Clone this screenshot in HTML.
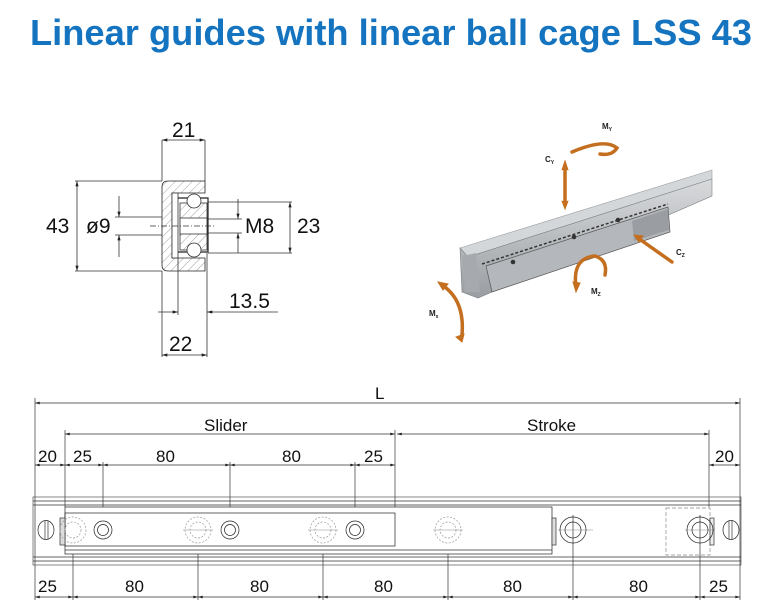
<!DOCTYPE html>
<html><head><meta charset="utf-8"><style>
body{margin:0;background:#fff;width:766px;height:608px;overflow:hidden}
svg{display:block}
text{font-family:"Liberation Sans",Arial,sans-serif}
</style></head><body>
<svg width="766" height="608" viewBox="0 0 766 608" xmlns="http://www.w3.org/2000/svg">
<defs>
<marker id="a" viewBox="0 0 10 6" refX="10" refY="3" markerWidth="8" markerHeight="4" orient="auto-start-reverse"><path d="M0,0L10,3L0,6z" fill="#222"/></marker>
<pattern id="h" width="6" height="6" patternUnits="userSpaceOnUse" patternTransform="rotate(45)"><line x1="0" y1="0" x2="0" y2="6" stroke="#777" stroke-width="0.7"/></pattern>
<linearGradient id="g1" x1="0" y1="0" x2="0" y2="1"><stop offset="0" stop-color="#d8dadc"/><stop offset="1" stop-color="#9a9ea2"/></linearGradient>
</defs>
<text x="391" y="45" text-anchor="middle" font-size="36" font-weight="bold" fill="#1574c0" textLength="722" lengthAdjust="spacingAndGlyphs">Linear guides with linear ball cage LSS 43</text>

<!-- cross section -->
<g stroke="#333" stroke-width="0.8" fill="none">
<path d="M168,181H205V193H172V258H205V271H168Q162,271 162,265V187Q162,181 168,181Z" fill="url(#h)" stroke="#222"/>
<rect x="172" y="193" width="6" height="65" fill="#fff"/>
<path d="M178,198H208V252H178" stroke="#222" stroke-width="1.2"/>
<rect x="180" y="203" width="27" height="47" fill="url(#h)"/>
<rect x="180" y="218" width="27" height="16" fill="#fff"/>
<circle cx="194" cy="201" r="7" fill="#fff"/>
<circle cx="194" cy="250" r="7" fill="#fff"/>
<line x1="162" y1="140" x2="162" y2="181"/><line x1="205" y1="140" x2="205" y2="181"/>
<line x1="162" y1="140" x2="205" y2="140" marker-start="url(#a)" marker-end="url(#a)"/>
<line x1="75" y1="181" x2="162" y2="181"/><line x1="75" y1="271" x2="162" y2="271"/>
<line x1="77" y1="181" x2="77" y2="271" marker-start="url(#a)" marker-end="url(#a)"/>
<line x1="115" y1="217" x2="162" y2="217"/><line x1="115" y1="235" x2="162" y2="235"/>
<line x1="119" y1="196" x2="119" y2="217" marker-end="url(#a)"/><line x1="119" y1="257" x2="119" y2="235" marker-end="url(#a)"/>
<line x1="150" y1="226" x2="215" y2="226" stroke-dasharray="6,2,1,2"/>
<line x1="208" y1="202" x2="292" y2="202"/><line x1="208" y1="253" x2="292" y2="253"/>
<line x1="207" y1="219" x2="242" y2="219"/><line x1="207" y1="233" x2="242" y2="233"/>
<line x1="238" y1="199" x2="238" y2="219" marker-end="url(#a)"/><line x1="238" y1="253" x2="238" y2="233" marker-end="url(#a)"/>
<line x1="290" y1="202" x2="290" y2="253" marker-start="url(#a)" marker-end="url(#a)"/>
<line x1="162" y1="271" x2="162" y2="357"/><line x1="178" y1="258" x2="178" y2="315"/><line x1="207" y1="253" x2="207" y2="357"/>
<line x1="158" y1="312" x2="178" y2="312" marker-end="url(#a)"/><line x1="278" y1="312" x2="207" y2="312" marker-end="url(#a)"/>
<line x1="162" y1="355" x2="207" y2="355" marker-start="url(#a)" marker-end="url(#a)"/>
</g>
<g font-size="21" fill="#111">
<text x="172" y="137">21</text><text x="46" y="233">43</text><text x="86" y="233">ø9</text>
<text x="245" y="233">M8</text><text x="297" y="233">23</text><text x="229" y="308">13.5</text><text x="169" y="351">22</text>
</g>

<!-- 3D rail -->
<g>
<polygon points="460,248 712,170 712,179 468,257" fill="#d4d7da" stroke="#9a9da0" stroke-width="0.6"/>
<polygon points="468,257 712,179 712,196 478,298 462,292 460,248" fill="url(#g1)" stroke="#7d8185" stroke-width="0.6"/>
<polygon points="486,266 668,207 670,232 492,292" fill="#b4b8bc" stroke="#555" stroke-width="0.7"/>
<line x1="482" y1="264" x2="668" y2="204" stroke="#333" stroke-width="1.5" stroke-dasharray="3,2"/>
<polygon points="632,221 668,209 669,230 634,241" fill="#9a9ea2"/>
<circle cx="513" cy="262" r="2.3" fill="#333"/><circle cx="574" cy="237" r="2.3" fill="#333"/><circle cx="618" cy="220" r="2.3" fill="#333"/>
<polygon points="462,256 476,253 480,292 465,292" fill="#a6aaae"/>
</g>
<g stroke="#c46f1f" stroke-width="3.5" fill="none" stroke-linecap="round">
<line x1="565" y1="166" x2="565" y2="205"/>
<path d="M562,170L565,161L568,170" fill="#c46f1f" stroke-width="1"/>
<path d="M562,201L565,209L568,201" fill="#c46f1f" stroke-width="1"/>
<path d="M572,152Q605,138 617,148Q612,156 600,154"/>
<line x1="638" y1="238" x2="672" y2="262"/>
<path d="M634,235l9,1l-4,6z" fill="#c46f1f" stroke-width="1"/>
<path d="M576,287Q572,258 595,256Q608,260 605,275"/>
<path d="M573,282l3,10l4,-9z" fill="#c46f1f" stroke-width="1"/>
<path d="M442,285Q465,300 462,335"/>
<path d="M438,282l10,2l-5,6z" fill="#c46f1f" stroke-width="1"/>
<path d="M456,337l6,5l2,-8z" fill="#c46f1f" stroke-width="1"/>
</g>
<g font-size="8" font-weight="bold" fill="#222">
<text x="602" y="129">M<tspan font-size="5" dy="2">Y</tspan></text>
<text x="545" y="162">C<tspan font-size="5" dy="2">Y</tspan></text>
<text x="676" y="255">C<tspan font-size="5" dy="2">Z</tspan></text>
<text x="591" y="294">M<tspan font-size="5" dy="2">Z</tspan></text>
<text x="429" y="316">M<tspan font-size="5" dy="2">x</tspan></text>
</g>

<!-- bottom drawing -->
<g stroke="#333" stroke-width="0.7" fill="none">
<line x1="35" y1="398" x2="35" y2="600"/><line x1="740" y1="398" x2="740" y2="600"/>
<line x1="35" y1="403" x2="740" y2="403" marker-start="url(#a)" marker-end="url(#a)"/>
<line x1="65" y1="430" x2="65" y2="507"/><line x1="395" y1="430" x2="395" y2="507"/><line x1="709" y1="430" x2="709" y2="507"/>
<line x1="65" y1="434" x2="395" y2="434" marker-start="url(#a)" marker-end="url(#a)"/>
<line x1="397" y1="434" x2="709" y2="434" marker-start="url(#a)" marker-end="url(#a)"/>
<g marker-start="url(#a)" marker-end="url(#a)">
<line x1="35" y1="465" x2="65" y2="465"/><line x1="65" y1="465" x2="103" y2="465"/>
<line x1="103" y1="465" x2="230" y2="465"/><line x1="230" y1="465" x2="355" y2="465"/><line x1="355" y1="465" x2="395" y2="465"/>
<line x1="709" y1="465" x2="740" y2="465"/>
<line x1="35" y1="597" x2="73" y2="597"/><line x1="73" y1="597" x2="198" y2="597"/><line x1="198" y1="597" x2="323" y2="597"/>
<line x1="323" y1="597" x2="448" y2="597"/><line x1="448" y1="597" x2="573" y2="597"/><line x1="573" y1="597" x2="700" y2="597"/><line x1="700" y1="597" x2="740" y2="597"/>
</g>
<line x1="103" y1="462" x2="103" y2="545"/><line x1="230" y1="462" x2="230" y2="545"/><line x1="355" y1="462" x2="355" y2="545"/>
<line x1="73" y1="515" x2="73" y2="600"/><line x1="198" y1="515" x2="198" y2="600"/><line x1="323" y1="515" x2="323" y2="600"/>
<line x1="448" y1="515" x2="448" y2="600"/><line x1="573" y1="515" x2="573" y2="600"/><line x1="700" y1="515" x2="700" y2="600"/>
<rect x="33" y="497" width="708" height="68" stroke="#555"/>
<line x1="33" y1="501" x2="741" y2="501"/><line x1="33" y1="505" x2="741" y2="505"/>
<line x1="33" y1="557" x2="741" y2="557"/><line x1="33" y1="561" x2="741" y2="561"/>
<rect x="65" y="507" width="487" height="47" fill="#fff" stroke="#222"/>
<rect x="65" y="513" width="330" height="33" stroke="#222"/>
<line x1="65" y1="550" x2="552" y2="550"/>
<rect x="60" y="518" width="5" height="27" fill="#ddd"/><rect x="552" y="518" width="4" height="27" fill="#ddd"/>
<rect x="666" y="508" width="44" height="47" stroke-dasharray="4,2" stroke="#888"/>
<rect x="710" y="518" width="4" height="27" fill="#eee"/>
<g stroke="#999" stroke-dasharray="2,1.5">
<circle cx="73" cy="530" r="13"/><circle cx="73" cy="530" r="8"/>
<circle cx="198" cy="530" r="13"/><circle cx="198" cy="530" r="8"/>
<circle cx="323" cy="530" r="13"/><circle cx="323" cy="530" r="8"/>
<circle cx="448" cy="530" r="13"/><circle cx="448" cy="530" r="8"/>
</g>
<g stroke="#888" stroke-width="0.5">
<line x1="183" y1="530" x2="213" y2="530"/><line x1="308" y1="530" x2="338" y2="530"/><line x1="433" y1="530" x2="463" y2="530"/>
<line x1="558" y1="530" x2="593" y2="530"/><line x1="685" y1="530" x2="715" y2="530"/>
</g>
<circle cx="103" cy="530" r="9" stroke="#222"/><circle cx="103" cy="530" r="5.5" stroke="#222"/>
<circle cx="230" cy="530" r="9" stroke="#222"/><circle cx="230" cy="530" r="5.5" stroke="#222"/>
<circle cx="355" cy="530" r="9" stroke="#222"/><circle cx="355" cy="530" r="5.5" stroke="#222"/>
<circle cx="573" cy="530" r="13" stroke="#222"/><circle cx="573" cy="530" r="8" stroke="#222"/>
<circle cx="700" cy="530" r="13" stroke="#222"/><circle cx="700" cy="530" r="8" stroke="#222"/>
<ellipse cx="46" cy="530" rx="8" ry="9.5" fill="#fff" stroke="#222"/><line x1="45" y1="521" x2="45" y2="539"/><line x1="48" y1="521" x2="48" y2="539"/>
<ellipse cx="731" cy="530" rx="8" ry="9.5" fill="#fff" stroke="#222"/><line x1="729" y1="521" x2="729" y2="539"/><line x1="732" y1="521" x2="732" y2="539"/>
</g>
<g font-size="17" fill="#111">
<text x="375" y="399">L</text>
<text x="204" y="431">Slider</text><text x="527" y="431">Stroke</text>
<text x="38" y="462">20</text><text x="73" y="462">25</text><text x="156" y="462">80</text><text x="282" y="462">80</text><text x="364" y="462">25</text><text x="715" y="462">20</text>
<text x="38" y="592">25</text><text x="125" y="592">80</text><text x="250" y="592">80</text><text x="374" y="592">80</text><text x="503" y="592">80</text><text x="629" y="592">80</text><text x="709" y="592">25</text>
</g>
</svg>
</body></html>
